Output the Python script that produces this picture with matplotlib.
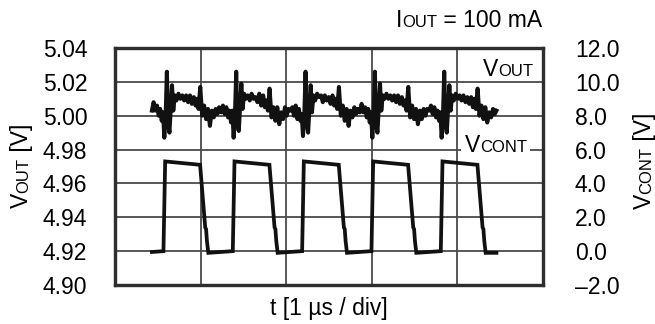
import matplotlib
matplotlib.use('Agg')
import matplotlib.pyplot as plt
from matplotlib.patches import Rectangle
from matplotlib.transforms import IdentityTransform

plt.rcParams['font.family'] = ['Liberation Sans', 'DejaVu Sans']

# time axis in divisions (1 div = 1 us)
t_out = [
    0.431, 0.451, 0.471, 0.491, 0.511, 0.528, 0.546, 0.561, 0.576, 0.591, 0.606, 0.621, 0.636, 0.651,
    0.666, 0.681, 0.698, 0.718, 0.741, 0.764, 0.786, 0.808, 0.831, 0.854, 0.876, 0.898, 0.921, 0.941,
    0.958, 0.976, 0.996, 1.018, 1.041, 1.064, 1.086, 1.109, 1.131, 1.154, 1.176, 1.196, 1.216,
    1.241, 1.261, 1.281, 1.301, 1.321, 1.338, 1.356, 1.371, 1.386, 1.401, 1.416, 1.431, 1.446, 1.461,
    1.476, 1.491, 1.508, 1.528, 1.551, 1.574, 1.596, 1.618, 1.641, 1.664, 1.686, 1.708, 1.731, 1.751,
    1.768, 1.786, 1.806, 1.828, 1.851, 1.874, 1.896, 1.919, 1.941, 1.964, 1.986, 2.006, 2.026,
    2.051, 2.071, 2.091, 2.111, 2.131, 2.148, 2.166, 2.181, 2.196, 2.211, 2.226, 2.241, 2.256, 2.271,
    2.286, 2.301, 2.318, 2.338, 2.361, 2.384, 2.406, 2.428, 2.451, 2.474, 2.496, 2.518, 2.541, 2.561,
    2.578, 2.596, 2.616, 2.638, 2.661, 2.684, 2.706, 2.729, 2.751, 2.774, 2.796, 2.816, 2.836,
    2.861, 2.881, 2.901, 2.921, 2.941, 2.958, 2.976, 2.991, 3.006, 3.021, 3.036, 3.051, 3.066, 3.081,
    3.096, 3.111, 3.128, 3.148, 3.171, 3.194, 3.216, 3.238, 3.261, 3.284, 3.306, 3.328, 3.351, 3.371,
    3.388, 3.406, 3.426, 3.448, 3.471, 3.494, 3.516, 3.539, 3.561, 3.584, 3.606, 3.626, 3.646,
    3.671, 3.691, 3.711, 3.731, 3.751, 3.768, 3.786, 3.801, 3.816, 3.831, 3.846, 3.861, 3.876, 3.891,
    3.906, 3.921, 3.938, 3.958, 3.981, 4.004, 4.026, 4.048, 4.071, 4.094, 4.116, 4.138, 4.161, 4.181,
    4.198, 4.216, 4.236, 4.258, 4.281, 4.304, 4.326, 4.349, 4.371, 4.394, 4.416, 4.436, 4.456,
]
v_out = [
    5.003, 5.008, 5.003, 5.006, 5.000, 5.004, 4.997, 5.002, 4.987, 4.999, 5.026, 4.996, 4.990, 5.004,
    5.018, 5.003, 5.012, 5.009, 5.013, 5.010, 5.012, 5.009, 5.012, 5.008, 5.012, 5.007, 5.011, 5.006,
    5.010, 5.004, 5.017, 5.000, 5.006, 4.998, 5.004, 4.994, 5.003, 4.999, 5.004, 5.001, 5.005,
    5.002, 5.006, 5.001, 5.005, 4.999, 5.003, 4.996, 5.003, 4.987, 5.000, 5.026, 4.995, 4.991, 5.005,
    5.019, 5.004, 5.013, 5.010, 5.012, 5.009, 5.013, 5.010, 5.011, 5.008, 5.013, 5.006, 5.012, 5.005,
    5.009, 5.003, 5.016, 4.999, 5.005, 4.997, 5.005, 4.995, 5.002, 4.998, 5.005, 5.000, 5.004,
    5.003, 5.005, 5.000, 5.006, 4.998, 5.004, 4.997, 5.001, 4.988, 4.999, 5.026, 4.996, 4.990, 5.004,
    5.018, 5.002, 5.012, 5.009, 5.013, 5.011, 5.012, 5.008, 5.012, 5.009, 5.011, 5.007, 5.012, 5.006,
    5.010, 5.004, 5.017, 5.000, 5.006, 4.997, 5.004, 4.994, 5.003, 4.999, 5.005, 5.001, 5.004,
    5.002, 5.007, 5.002, 5.005, 4.999, 5.004, 4.996, 5.002, 4.987, 5.000, 5.026, 4.995, 4.990, 5.005,
    5.019, 5.003, 5.012, 5.010, 5.013, 5.010, 5.012, 5.009, 5.012, 5.008, 5.012, 5.007, 5.011, 5.006,
    5.009, 5.003, 5.017, 4.999, 5.006, 4.998, 5.004, 4.995, 5.003, 4.998, 5.004, 5.000, 5.004,
    5.003, 5.006, 5.001, 5.005, 4.999, 5.003, 4.997, 5.002, 4.987, 4.999, 5.026, 4.996, 4.990, 5.004,
    5.018, 5.003, 5.012, 5.009, 5.013, 5.010, 5.012, 5.009, 5.012, 5.008, 5.011, 5.007, 5.011, 5.005,
    5.010, 5.004, 5.016, 5.000, 5.006, 4.998, 5.005, 4.996, 5.002, 4.999, 5.004, 5.001, 5.003,
]

t_cont = [0.431, 0.566, 0.586, 0.994, 1.054, 1.064, 1.074, 1.090,
          1.376, 1.396, 1.804, 1.864, 1.874, 1.884, 1.900,
          2.186, 2.206, 2.614, 2.674, 2.684, 2.694, 2.710,
          2.996, 3.016, 3.424, 3.484, 3.494, 3.504, 3.520,
          3.806, 3.826, 4.234, 4.294, 4.304, 4.314, 4.330, 4.456]
v_cont = [-0.05, 0.0, 5.3, 5.1, 1.4, 1.3, 0.6, -0.1,
          0.0, 5.3, 5.1, 1.4, 1.3, 0.6, -0.1,
          0.0, 5.3, 5.1, 1.4, 1.3, 0.6, -0.1,
          0.0, 5.3, 5.1, 1.4, 1.3, 0.6, -0.1,
          0.0, 5.3, 5.1, 1.4, 1.3, 0.6, -0.1, -0.1]

left_ticks = [4.90, 4.92, 4.94, 4.96, 4.98, 5.00, 5.02, 5.04]
left_labels = ['4.90', '4.92', '4.94', '4.96', '4.98', '5.00', '5.02', '5.04']
right_ticks = [-2, 0, 2, 4, 6, 8, 10, 12]
right_labels = ['\u20132.0', '0.0', '2.0', '4.0', '6.0', '8.0', '10.0', '12.0']
div_ticks = [0, 1, 2, 3, 4, 5]

FS = 16.5
FS_SMALL = 12

W, H = 655, 324
fig = plt.figure(figsize=(W / 100, H / 100), dpi=100)
ax = fig.add_axes([115 / W, (H - 285) / H, 428 / W, 237 / H])
ax2 = ax.twinx()

ax.plot(t_out, v_out, color='#111111', lw=2.9, solid_joinstyle='round')
ax2.plot(t_cont, v_cont, color='#111111', lw=2.7, solid_joinstyle='miter')

ax.set_xlim(0, 5)
ax.set_ylim(4.90, 5.04)
ax2.set_ylim(-2, 12)
ax.set_xticks(div_ticks)
ax.set_xticklabels([])
ax.set_yticks(left_ticks)
ax.set_yticklabels(left_labels, fontsize=FS)
ax2.set_yticks(right_ticks)
ax2.set_yticklabels(right_labels, fontsize=FS)
ax.tick_params(axis='both', length=0)
ax.tick_params(axis='y', pad=20)
ax2.tick_params(axis='y', length=0, pad=23)
ax.grid(True, color='#4a4a4a', lw=1.3)

for a in (ax, ax2):
    for sp in a.spines.values():
        sp.set_color('#2e2e2e')
        sp.set_linewidth(2.3)

# white patch behind the VCONT label
fig.add_artist(Rectangle((461, 167), 69, 21, transform=IdentityTransform(),
                         facecolor='white', edgecolor='none', zorder=2))


def put(x, y, parts, rot=0, align='left'):
    # chain text pieces (small caps subscripts) in pixel coords
    r = fig.canvas.get_renderer()
    arts = [fig.text(0, 0, s, fontsize=fs, rotation=rot, rotation_mode='anchor',
                     ha='left', va='baseline', transform=IdentityTransform(), zorder=5)
            for s, fs in parts]
    sizes = []
    for a in arts:
        bb = a.get_window_extent(r)
        sizes.append(bb.width if rot == 0 else bb.height)
    total = sum(sizes)
    pos = {'left': 0, 'center': -total / 2, 'right': -total}[align]
    for a, s in zip(arts, sizes):
        if rot == 0:
            a.set_position((x + pos, y))
        else:
            a.set_position((x, y + pos))
        pos += s


put(542, H - 27, [('I', FS), ('OUT', FS_SMALL), (' = 100 mA', FS)], align='right')
put(28, H - 166, [('V', FS), ('OUT', FS_SMALL), (' [V]', FS)], rot=90, align='center')
put(651, H - 161, [('V', FS), ('CONT', FS_SMALL), (' [V]', FS)], rot=90, align='center')
put(483, H - 76, [('V', FS), ('OUT', FS_SMALL)])
put(465, H - 152, [('V', FS), ('CONT', FS_SMALL)])
fig.text(329, 9, 't [1 \u00b5s / div]', fontsize=FS, ha='center', va='baseline',
         transform=IdentityTransform())

fig.savefig('out.png', dpi=100)
